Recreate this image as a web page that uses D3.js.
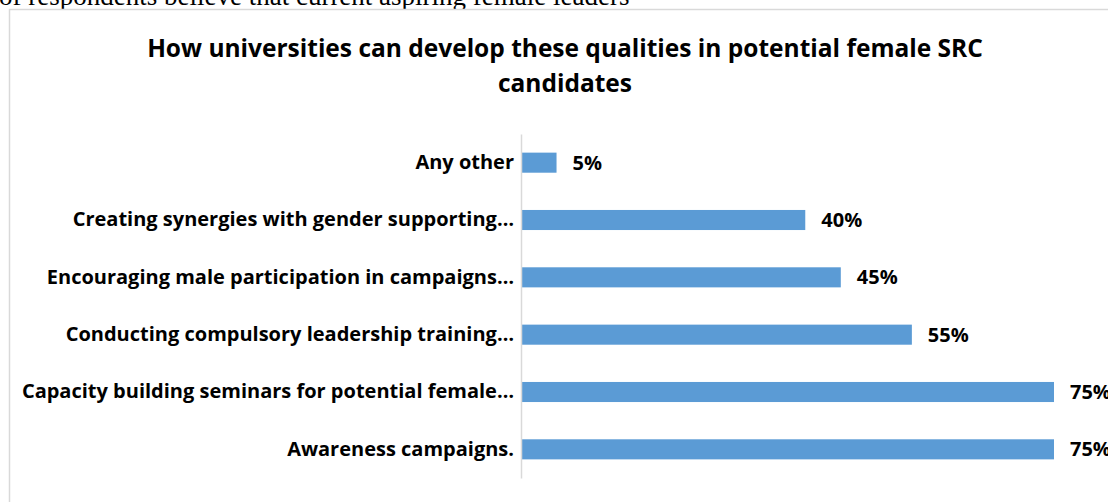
<!DOCTYPE html>
<html>
<head>
<meta charset="utf-8">
<script src="https://cdn.jsdelivr.net/npm/d3@7"></script>
<style>
  html, body { margin: 0; padding: 0; background: #fff; overflow: hidden; }
  svg { display: block; }
</style>
</head>
<body>
<script>
// Survey responses: ways universities can build leadership qualities
const categories = [
  "Any other",
  "Creating synergies with gender supporting…",
  "Encouraging male participation in campaigns…",
  "Conducting compulsory leadership training…",
  "Capacity building seminars for potential female…",
  "Awareness campaigns."
];
const shares = [0.05, 0.40, 0.45, 0.55, 0.75, 0.75];
const titleLines = [
  "How universities can develop these qualities in potential female SRC",
  "candidates"
];
const precedingText = "of respondents believe that current aspiring female leaders";

const W = 1108, H = 502;
const svg = d3.select("body").append("svg").attr("width", W).attr("height", H);

// Line of document text above the chart frame
svg.append("text")
  .attr("x", -1).attr("y", 5)
  .attr("font-family", "'Liberation Serif', 'Times New Roman', serif")
  .attr("font-size", 27)
  .attr("fill", "#000")
  .text(precedingText);

// Chart frame
svg.append("rect")
  .attr("x", 9.5).attr("y", 9.5)
  .attr("width", W + 20).attr("height", H + 20)
  .attr("fill", "#fff")
  .attr("stroke", "#d9d9d9")
  .attr("stroke-width", 1.5);

const sans = "'Open Sans', 'Noto Sans', 'Liberation Sans', sans-serif";

// Title
svg.append("g").selectAll("text")
  .data(titleLines)
  .join("text")
  .attr("x", 565)
  .attr("y", (d, i) => 57 + i * 35)
  .attr("text-anchor", "middle")
  .attr("font-family", sans)
  .attr("font-weight", 700)
  .attr("font-size", 24.5)
  .attr("fill", "#000")
  .text(d => d);

// Scales
const x = d3.scaleLinear().domain([0, 0.75]).range([521, 1054]);
const y = d3.scaleBand().domain(categories).range([134, 478]).paddingInner(0.65).paddingOuter(0.325);

// Bars
svg.append("g").selectAll("rect")
  .data(categories)
  .join("rect")
  .attr("x", x(0))
  .attr("y", d => y(d))
  .attr("width", (d, i) => x(shares[i]) - x(0))
  .attr("height", y.bandwidth())
  .attr("fill", "#5b9bd5");

// Category axis
const axis = svg.append("g")
  .attr("transform", `translate(${x(0)},0)`)
  .call(d3.axisLeft(y).tickSize(0).tickPadding(7));
axis.select(".domain").attr("stroke", "#d9d9d9").attr("stroke-width", 1.5);
axis.selectAll(".tick text")
  .attr("font-family", sans)
  .attr("font-weight", 700)
  .attr("font-size", 20)
  .attr("fill", "#000");

// Value labels
svg.append("g").selectAll("text")
  .data(categories)
  .join("text")
  .attr("x", (d, i) => x(shares[i]) + 16)
  .attr("y", d => y(d) + y.bandwidth() / 2)
  .attr("dy", "0.35em")
  .attr("font-family", sans)
  .attr("font-weight", 700)
  .attr("font-size", 20)
  .attr("fill", "#000")
  .text((d, i) => d3.format(".0%")(shares[i]));
</script>
</body>
</html>
